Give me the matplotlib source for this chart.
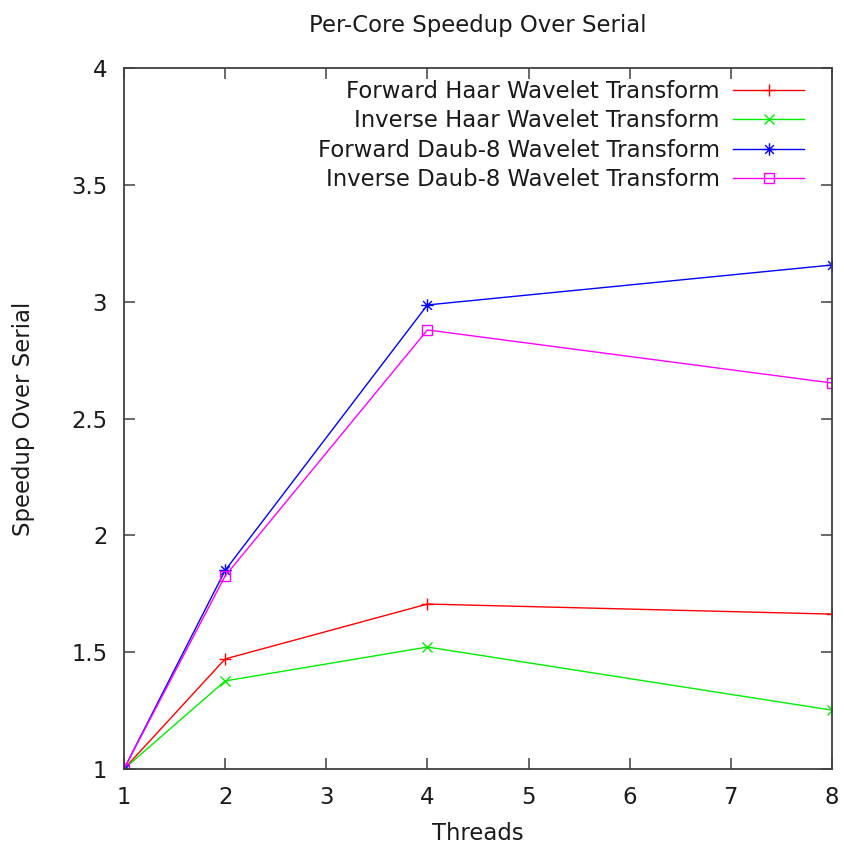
import matplotlib
matplotlib.use("Agg")
import matplotlib.pyplot as plt
from matplotlib.path import Path

threads = [1, 2, 4, 8]
fwd_haar = [1.0, 1.471, 1.706, 1.663]
inv_haar = [1.0, 1.377, 1.522, 1.252]
fwd_daub8 = [1.0, 1.850, 2.986, 3.157]
inv_daub8 = [1.0, 1.826, 2.879, 2.652]

labels = ["Forward Haar Wavelet Transform",
          "Inverse Haar Wavelet Transform",
          "Forward Daub-8 Wavelet Transform",
          "Inverse Daub-8 Wavelet Transform"]

# gnuplot-style asterisk: a plus and a cross drawn together
star = Path([(-1, 0), (1, 0), (0, -1), (0, 1),
             (-0.7, -0.7), (0.7, 0.7), (-0.7, 0.7), (0.7, -0.7)],
            [Path.MOVETO, Path.LINETO] * 4)

plt.rcParams['font.family'] = ['DejaVu Sans']
fig = plt.figure(figsize=(8.45, 8.49), dpi=100)
ax = fig.add_axes([0.1467, 0.0942, 0.8379, 0.8257])

lw = 1.0
ax.plot(threads, fwd_haar, color='#ff0000', lw=lw, marker='+', ms=9, mew=1.0, label=labels[0])
ax.plot(threads, inv_haar, color='#00ee00', lw=lw, marker='x', ms=7, mew=1.0, label=labels[1])
ax.plot(threads, fwd_daub8, color='#0000ff', lw=lw, marker=star, ms=9, mew=1.0, label=labels[2])
ax.plot(threads, inv_daub8, color='#ff00ff', lw=lw, marker='s', ms=7, mew=1.0,
        mfc='none', label=labels[3])

ax.set_xlim(1, 8)
ax.set_ylim(1, 4)
ax.set_xticks(range(1, 9))
ax.set_yticks([1, 1.5, 2, 2.5, 3, 3.5, 4])
ax.set_yticklabels(["1", "1.5", "2", "2.5", "3", "3.5", "4"])

frame = '#404040'
txt = '#1a1a1a'
for s in ax.spines.values():
    s.set_color(frame)
    s.set_linewidth(1.3)
ax.tick_params(direction='in', length=8, width=1.1, color=frame, labelcolor=txt,
               top=True, right=True, labelsize=16.4, pad=12)

fs = 16.4
ax.set_title("Per-Core Speedup Over Serial", fontsize=fs, pad=26, color=txt)
ax.set_xlabel("Threads", fontsize=fs, color=txt, va='center')
ax.xaxis.set_label_coords(0.5, -0.092)
ax.set_ylabel("Speedup Over Serial", fontsize=fs, color=txt)
ax.yaxis.set_label_coords(-0.126, 0.5)

leg = ax.legend(loc='upper right', bbox_to_anchor=(0.9605, 0.983), frameon=False,
                markerfirst=False, fontsize=fs, handlelength=3.1,
                handletextpad=0.6, labelspacing=0.28, borderaxespad=0, borderpad=0)
for t in leg.get_texts():
    t.set_ha('right')
    t.set_color(txt)

fig.savefig("out.png", dpi=100)
